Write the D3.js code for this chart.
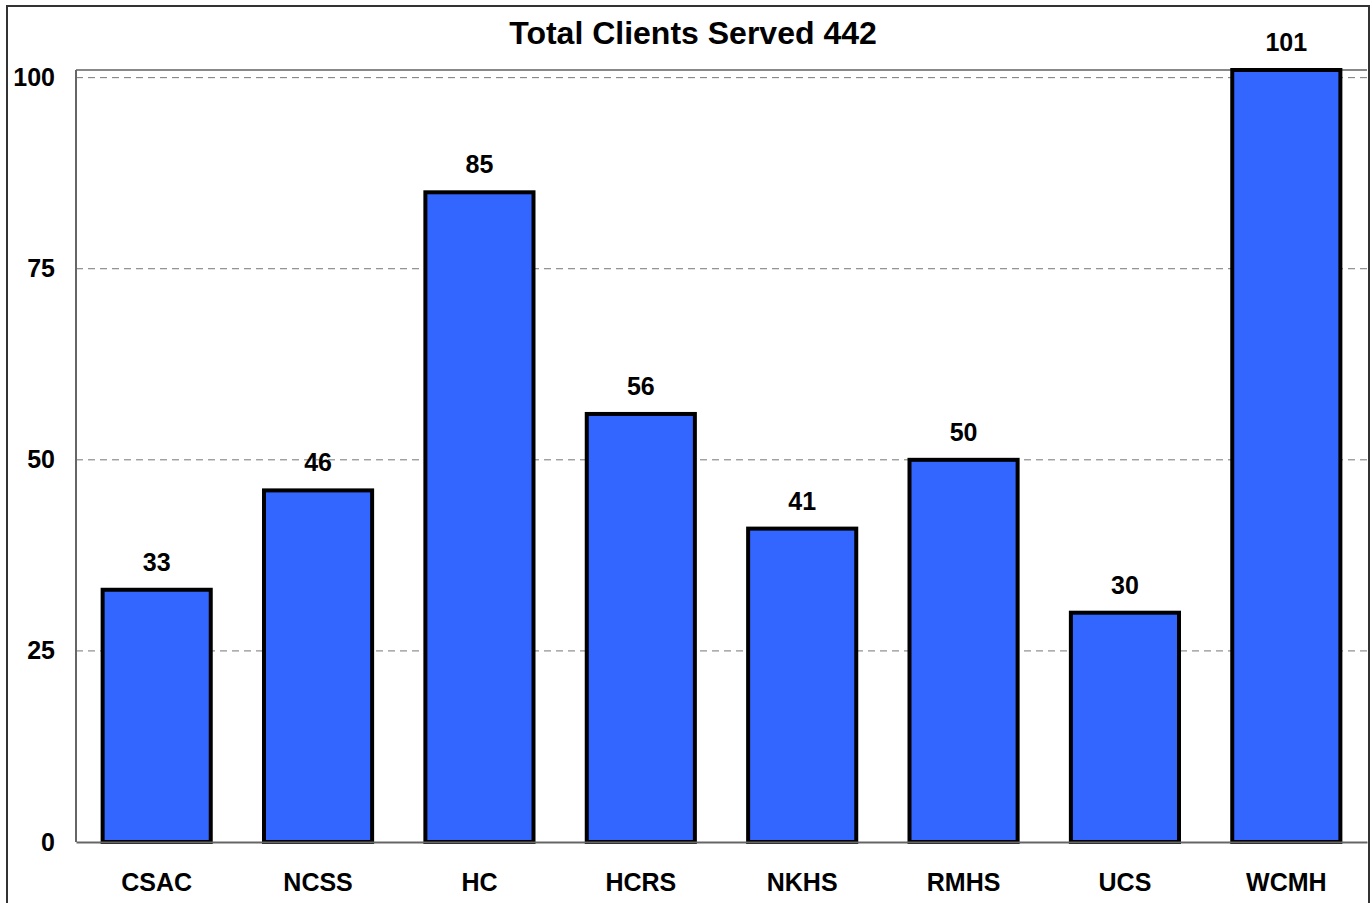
<!DOCTYPE html>
<html>
<head>
<meta charset="utf-8">
<script src="https://cdn.jsdelivr.net/npm/d3@7"></script>
<style>
body{margin:0;background:#fff;}
svg{display:block;font-family:"Liberation Sans",Arial,sans-serif;}
</style>
</head>
<body>
<div id="chart"></div>
<script>
// data
var categories=["CSAC","NCSS","HC","HCRS","NKHS","RMHS","UCS","WCMH"];
var clients=[33,46,85,56,41,50,30,101];
var yTicks=[0,25,50,75,100];
var title="Total Clients Served 442";

var width=1372,height=903;
var m={left:76,right:5,top:70,bottom:61};
var fs=25;

var svg=d3.select("#chart").append("svg").attr("width",width).attr("height",height);

// outer frame
svg.append("rect").attr("x",7).attr("y",6).attr("width",1362).attr("height",920)
	.attr("fill","none").attr("stroke","#333").attr("stroke-width",2);

var x=d3.scaleBand().domain(categories).range([m.left,width-m.right]).paddingInner(0.33).paddingOuter(0.165);
var y=d3.scaleLinear().domain([0,101]).range([height-m.bottom,m.top]);

// grid
svg.append("g").selectAll("line").data(yTicks.filter(function(d){return d>0;})).enter().append("line")
	.attr("x1",m.left).attr("x2",width-m.right)
	.attr("y1",function(d){return y(d);}).attr("y2",function(d){return y(d);})
	.attr("stroke","#777").attr("stroke-width",1).attr("stroke-dasharray","7,5");

// plot frame
svg.append("line").attr("x1",m.left).attr("x2",width-m.right).attr("y1",m.top).attr("y2",m.top).attr("stroke","#888").attr("stroke-width",2);
svg.append("line").attr("x1",m.left).attr("x2",m.left).attr("y1",m.top).attr("y2",height-m.bottom).attr("stroke","#666").attr("stroke-width",2);

// y axis labels
var ya=svg.append("g").attr("transform","translate("+m.left+",0)").call(d3.axisLeft(y).tickValues(yTicks).tickSize(0).tickPadding(21));
ya.select(".domain").remove();
ya.selectAll("text").attr("font-size",fs).attr("font-weight","bold").attr("fill","#000").attr("font-family","Liberation Sans, Arial, sans-serif");

// bars
svg.append("g").selectAll("rect").data(clients).enter().append("rect")
	.attr("x",function(d,i){return x(categories[i]);})
	.attr("y",function(d){return y(d);})
	.attr("width",x.bandwidth())
	.attr("height",function(d){return y(0)-y(d);})
	.attr("fill","#3366FF").attr("stroke","#000").attr("stroke-width",4);

// value labels
svg.append("g").selectAll("text").data(clients).enter().append("text")
	.attr("x",function(d,i){return x(categories[i])+x.bandwidth()/2;})
	.attr("y",function(d){return y(d)-19;})
	.attr("text-anchor","middle").attr("font-size",fs).attr("font-weight","bold")
	.text(function(d){return d;});

// x axis
var xa=svg.append("g").attr("transform","translate(0,"+(height-m.bottom)+")").call(d3.axisBottom(x).tickSize(0).tickPadding(31));
xa.select(".domain").attr("stroke","#666").attr("stroke-width",2);
xa.selectAll("text").attr("font-size",fs).attr("font-weight","bold").attr("fill","#000").attr("font-family","Liberation Sans, Arial, sans-serif");

// title
svg.append("text").attr("x",693).attr("y",44).attr("text-anchor","middle")
	.attr("font-size",32).attr("font-weight","bold").text(title);
</script>
</body>
</html>
